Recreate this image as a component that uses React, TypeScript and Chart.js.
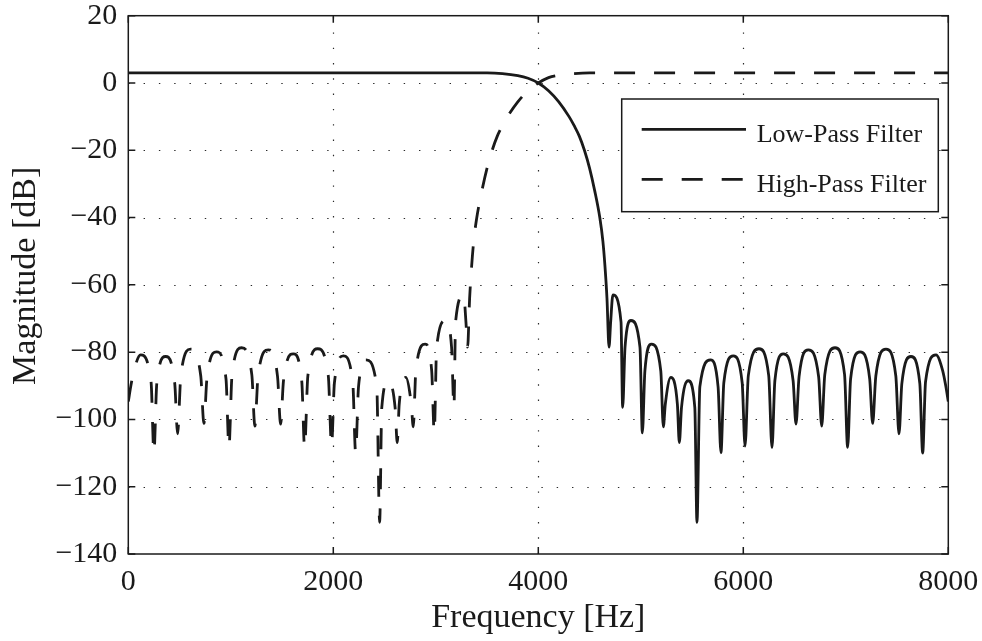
import React, { useEffect, useRef } from 'react';
import { Chart, registerables } from 'chart.js';

Chart.register(...registerables);

// ---- Data ----
const seriesLabels = ['Low-Pass Filter', 'High-Pass Filter'];
const xTitle = 'Frequency [Hz]';
const yTitle = 'Magnitude [dB]';

const lowFreq = [
  0, 1000, 2000, 3000, 3500, 3650, 3800, 3900, 4000, 4100, 4200, 4300, 4350, 4400, 4450, 4500, 4550, 4600, 4630, 4650, 4670,
  4690, 4706, 4728, 4807,
  4823, 4846, 4904, 4992,
  5015, 5040, 5104, 5195,
  5220, 5239, 5293, 5357,
  5376, 5397, 5463, 5527,
  5548, 5576, 5680, 5754,
  5782, 5810, 5902, 5989,
  6017, 6049, 6153, 6248,
  6280, 6308, 6390, 6486,
  6514, 6544, 6634, 6735,
  6765, 6795, 6895, 6988,
  7018, 7047, 7139, 7233,
  7262, 7293, 7392, 7488,
  7519, 7547, 7636, 7722,
  7750, 7778, 7880, 7945, 7975, 8000,
];
const lowMag = [
  3.0, 3.0, 3.0, 3.0, 3.0, 2.8, 2.2, 1.4, 0.0, -2.3, -5.6, -10.0, -12.7, -15.8, -20.0, -25.3, -32.0, -40.0, -47.0, -54.3, -64.0,
  -78.5, -71.0, -63.0, -71.0,
  -96.4, -78.6, -70.6, -78.6,
  -104.0, -85.6, -77.6, -85.6,
  -102.2, -95.5, -87.5, -95.5,
  -106.9, -96.5, -88.5, -96.5,
  -130.6, -90.3, -82.3, -90.3,
  -109.9, -89.1, -81.1, -89.1,
  -107.9, -87.0, -79.0, -87.0,
  -108.4, -88.5, -80.5, -88.5,
  -101.4, -87.3, -79.3, -87.3,
  -102.0, -86.7, -78.7, -86.7,
  -108.3, -87.9, -79.9, -87.9,
  -101.2, -87.1, -79.1, -87.1,
  -104.3, -89.3, -81.3, -89.3,
  -110.0, -88.8, -80.8, -85.5, -90.0, -94.7,
];

const highFreq = [
  0, 25, 55, 120, 222,
  250, 278, 364, 453,
  481, 512, 608, 707,
  738, 767, 861, 953,
  982, 1012, 1105, 1205,
  1235, 1265, 1366, 1456,
  1486, 1514, 1610, 1692,
  1720, 1752, 1847, 1951,
  1983, 2011, 2098, 2190,
  2218, 2246, 2320, 2424,
  2452, 2473, 2537, 2603,
  2624, 2643, 2707, 2761,
  2780, 2805, 2896, 2960,
  2985, 3008, 3096, 3154,
  3177, 3193, 3272, 3294,
  3310, 3330, 3350, 3370, 3400, 3450, 3500, 3550, 3600, 3650, 3700, 3800, 3900, 4000, 4100, 4200, 4350, 4500,
  5000, 6000, 7000, 8000,
];
const highMag = [
  -94.7, -90.0, -85.5, -80.8, -88.8,
  -110.0, -89.3, -81.3, -89.3,
  -104.3, -87.1, -79.1, -87.1,
  -101.2, -87.9, -79.9, -87.9,
  -108.3, -86.7, -78.7, -86.7,
  -102.0, -87.3, -79.3, -87.3,
  -101.4, -88.5, -80.5, -88.5,
  -108.4, -87.0, -79.0, -87.0,
  -107.9, -89.1, -81.1, -89.1,
  -109.9, -90.3, -82.3, -90.3,
  -130.6, -96.5, -88.5, -96.5,
  -106.9, -95.5, -87.5, -95.5,
  -102.2, -85.6, -77.6, -85.6,
  -104.0, -78.6, -70.6, -78.6,
  -96.4, -71.0, -63.0, -71.0,
  -78.5, -64.0, -54.3, -47.0, -40.0, -32.0, -25.3, -20.0, -15.8, -12.7, -10.0, -5.6, -2.3, 0.0, 1.6, 2.3, 2.8, 3.0,
  3.0, 3.0, 3.0, 3.0,
];

const xTicks = [0, 2000, 4000, 6000, 8000];
const yTicks = [20, 0, -20, -40, -60, -80, -100, -120, -140];

const SERIF = '"Liberation Serif", "Times New Roman", Times, serif';
const INK = '#1a1a1a';
const HP_DASH = [21, 19];

export default function App() {
  const canvasRef = useRef<HTMLCanvasElement | null>(null);

  useEffect(() => {
    const canvas = canvasRef.current;
    if (!canvas) return;

    const toPoints = (xs: number[], ys: number[]) => xs.map((x, i) => ({ x, y: ys[i] }));

    const framePlugin = {
      id: 'matlabFrame',
      beforeDatasetsDraw(chart: any) {
        const { ctx, chartArea: a, scales } = chart;
        const xs = scales.x;
        const ys = scales.y;
        ctx.save();
        ctx.strokeStyle = '#2a2a2a';
        ctx.lineWidth = 1.2;
        ctx.setLineDash([1.4, 13.9]);
        for (const v of xTicks) {
          if (v <= xs.min || v >= xs.max) continue;
          const px = Math.round(xs.getPixelForValue(v)) + 0.5;
          ctx.beginPath();
          ctx.moveTo(px, a.bottom);
          ctx.lineTo(px, a.top);
          ctx.stroke();
        }
        for (const v of yTicks) {
          if (v <= ys.min || v >= ys.max) continue;
          const py = Math.round(ys.getPixelForValue(v)) + 0.5;
          ctx.beginPath();
          ctx.moveTo(a.left, py);
          ctx.lineTo(a.right, py);
          ctx.stroke();
        }
        ctx.restore();
      },
      afterDatasetsDraw(chart: any) {
        const { ctx, chartArea: a, scales } = chart;
        const xs = scales.x;
        const ys = scales.y;
        ctx.save();
        ctx.setLineDash([]);
        ctx.strokeStyle = INK;
        ctx.lineWidth = 1.5;
        ctx.strokeRect(a.left, a.top, a.right - a.left, a.bottom - a.top);
        const len = 7;
        ctx.beginPath();
        for (const v of xTicks) {
          const px = xs.getPixelForValue(v);
          ctx.moveTo(px, a.bottom);
          ctx.lineTo(px, a.bottom - len);
          ctx.moveTo(px, a.top);
          ctx.lineTo(px, a.top + len);
        }
        for (const v of yTicks) {
          const py = ys.getPixelForValue(v);
          ctx.moveTo(a.left, py);
          ctx.lineTo(a.left + len, py);
          ctx.moveTo(a.right, py);
          ctx.lineTo(a.right - len, py);
        }
        ctx.stroke();

        // Legend box (inside the axes, upper right)
        const lx = a.right - 326.6;
        const ly = a.top + 83.3;
        const lw = 316.6;
        const lh = 112.7;
        ctx.fillStyle = '#ffffff';
        ctx.fillRect(lx, ly, lw, lh);
        ctx.lineWidth = 1.5;
        ctx.strokeStyle = INK;
        ctx.strokeRect(lx, ly, lw, lh);
        const rows = [30.3, 80.3];
        chart.data.datasets.forEach((ds: any, i: number) => {
          const ry = ly + rows[i];
          ctx.save();
          ctx.strokeStyle = ds.borderColor;
          ctx.lineWidth = ds.borderWidth;
          ctx.lineCap = 'butt';
          ctx.setLineDash(ds.borderDash || []);
          ctx.beginPath();
          ctx.moveTo(lx + 20, ry);
          ctx.lineTo(lx + 124.3, ry);
          ctx.stroke();
          ctx.restore();
          ctx.fillStyle = INK;
          ctx.font = `26px ${SERIF}`;
          ctx.textAlign = 'left';
          ctx.textBaseline = 'alphabetic';
          ctx.fillText(ds.label, lx + 135, ry + 12.4);
        });
        ctx.restore();
      },
      afterDraw(chart: any) {
        // y-axis title, placed as in the reference (slightly above the axis centre)
        const { ctx, chartArea: a } = chart;
        ctx.save();
        ctx.translate(26.5, (a.top + a.bottom) / 2 - 9);
        ctx.rotate(-Math.PI / 2);
        ctx.fillStyle = INK;
        ctx.font = `34px ${SERIF}`;
        ctx.textAlign = 'center';
        ctx.textBaseline = 'middle';
        ctx.fillText(yTitle, 0, 0);
        ctx.restore();
      },
    };

    const tickFmt = (v: any) => String(v).replace('-', '\u2212');
    const zeroPad = (scale: any) => {
      scale.paddingTop = 0;
      scale.paddingBottom = 0;
      scale.paddingLeft = 0;
      scale.paddingRight = 0;
    };

    const chart = new Chart(canvas, {
      type: 'line',
      data: {
        datasets: [
          {
            label: seriesLabels[0],
            data: toPoints(lowFreq, lowMag),
            borderColor: INK,
            borderWidth: 2.8,
            pointRadius: 0,
            fill: false,
            cubicInterpolationMode: 'monotone',
            borderJoinStyle: 'round',
          },
          {
            label: seriesLabels[1],
            data: toPoints(highFreq, highMag),
            borderColor: INK,
            borderWidth: 2.8,
            borderDash: HP_DASH,
            borderCapStyle: 'butt',
            pointRadius: 0,
            fill: false,
            cubicInterpolationMode: 'monotone',
            borderJoinStyle: 'round',
          },
        ],
      },
      options: {
        responsive: false,
        animation: false,
        devicePixelRatio: 1,
        layout: { padding: { top: 15.7, right: 33.7, bottom: 0, left: 0 } },
        plugins: {
          legend: { display: false },
          tooltip: { enabled: false },
          title: { display: false },
        },
        scales: {
          x: {
            type: 'linear',
            min: 0,
            max: 8000,
            afterBuildTicks: (scale: any) => {
              scale.ticks = xTicks.map((v) => ({ value: v }));
            },
            afterFit: (scale: any) => {
              scale.height = 87;
              zeroPad(scale);
            },
            grid: { display: false, drawTicks: false },
            border: { display: false },
            ticks: {
              callback: (v: any) => tickFmt(v),
              color: INK,
              padding: 13,
              maxRotation: 0,
              autoSkip: false,
              font: { family: SERIF, size: 30, lineHeight: 1 },
            },
            title: {
              display: true,
              text: xTitle,
              color: INK,
              font: { family: SERIF, size: 34, lineHeight: 1 },
              padding: { top: 0, bottom: 5.5 },
            },
          },
          y: {
            type: 'linear',
            min: -140,
            max: 20,
            afterBuildTicks: (scale: any) => {
              scale.ticks = yTicks.map((v) => ({ value: v }));
            },
            afterFit: (scale: any) => {
              scale.width = 128.3;
              zeroPad(scale);
            },
            grid: { display: false, drawTicks: false },
            border: { display: false },
            ticks: {
              callback: (v: any) => tickFmt(v),
              color: INK,
              padding: 11,
              autoSkip: false,
              font: { family: SERIF, size: 30, lineHeight: 1 },
            },
            title: { display: false },
          },
        },
      },
      plugins: [framePlugin],
    } as any);

    return () => {
      chart.destroy();
    };
  }, []);

  return (
    <div style={{ position: 'fixed', left: 0, top: 0, width: 982, height: 641, background: '#ffffff' }}>
      <canvas ref={canvasRef} width={982} height={641} style={{ display: 'block', width: 982, height: 641 }} />
    </div>
  );
}
